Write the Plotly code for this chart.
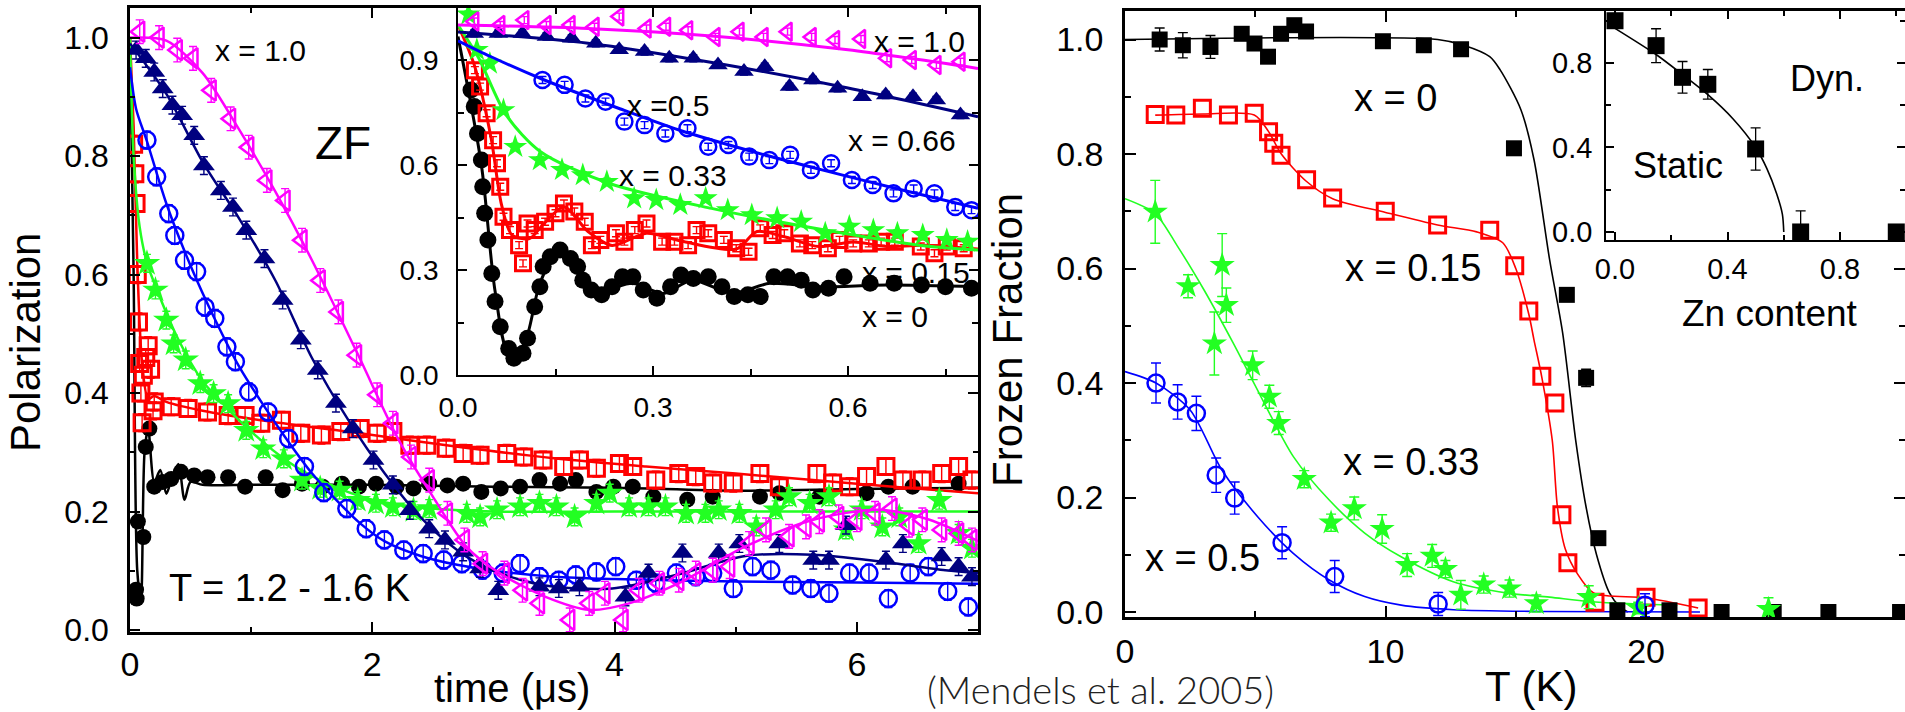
import plotly.graph_objects as go

W, H = 1905, 712
FONT = "Liberation Sans, Arial, sans-serif"

# ---------------- Left main panel: polarization vs time (us) ----------------
T_X0 = [0.05, 0.055, 0.065, 0.11, 0.13, 0.16, 0.2, 0.27, 0.34, 0.42, 0.53, 0.64, 0.81, 0.95, 1.12, 1.26, 1.42, 1.59, 1.75, 1.89,
        2.03, 2.2, 2.34, 2.47, 2.62, 2.75, 2.9, 3.06, 3.22, 3.38, 3.55, 3.68, 3.85, 3.99, 4.15, 4.32, 4.6, 4.81, 5.2, 5.36,
        5.69, 6.08, 6.26, 6.46, 6.84]
P_X0 = [0.068, 0.053, 0.183, 0.157, 0.309, 0.34, 0.242, 0.25, 0.255, 0.267, 0.261, 0.258, 0.258, 0.242, 0.258, 0.236, 0.247, 0.242, 0.247, 0.242,
        0.247, 0.242, 0.239, 0.247, 0.244, 0.247, 0.233, 0.239, 0.242, 0.253, 0.247, 0.253, 0.233, 0.242, 0.242, 0.225, 0.22, 0.225, 0.225, 0.231,
        0.225, 0.231, 0.242, 0.242, 0.247]
FIT_T_X0 = [0, 0.03, 0.06, 0.09, 0.12, 0.15, 0.2, 0.25, 0.3, 0.35, 0.4, 0.45, 0.5, 0.6, 1.0, 2.0, 3.0, 4.0, 5.0, 6.0, 7.0]
FIT_P_X0 = [1.0, 0.6, 0.1, 0.05, 0.3, 0.34, 0.25, 0.27, 0.23, 0.26, 0.28, 0.22, 0.25, 0.245, 0.245, 0.245, 0.242, 0.24, 0.235, 0.238, 0.24]

T_X15 = [0.03, 0.04, 0.05, 0.06, 0.07, 0.08, 0.09, 0.1, 0.11, 0.13, 0.15, 0.17, 0.19, 0.2, 0.34, 0.48, 0.64, 0.81, 0.95, 1.08,
         1.25, 1.41, 1.58, 1.74, 1.9, 2.04, 2.17, 2.31, 2.45, 2.61, 2.75, 2.89, 3.11, 3.25, 3.41, 3.58, 3.71, 3.85, 4.04, 4.15,
         4.34, 4.53, 4.67, 4.81, 4.98, 5.2, 5.36, 5.67, 5.8, 5.94, 6.08, 6.24, 6.38, 6.54, 6.7, 6.84, 6.95]
P_X15 = [0.82, 0.77, 0.72, 0.6, 0.52, 0.45, 0.4, 0.35, 0.43, 0.46, 0.48, 0.44, 0.37, 0.385, 0.377, 0.374, 0.368, 0.362, 0.362, 0.349,
         0.354, 0.332, 0.329, 0.335, 0.34, 0.332, 0.335, 0.312, 0.312, 0.307, 0.298, 0.295, 0.298, 0.292, 0.287, 0.276, 0.287, 0.273, 0.281, 0.276,
         0.253, 0.264, 0.259, 0.248, 0.248, 0.264, 0.242, 0.264, 0.248, 0.242, 0.259, 0.276, 0.253, 0.253, 0.264, 0.276, 0.253]
FIT_T_X15 = [0, 0.03, 0.06, 0.1, 0.15, 0.2, 0.3, 0.6, 1.08, 1.9, 2.72, 3.5, 4.26, 5.0, 5.64, 6.3, 7.0]
FIT_P_X15 = [1.0, 0.85, 0.62, 0.45, 0.39, 0.395, 0.385, 0.37, 0.354, 0.332, 0.309, 0.29, 0.276, 0.264, 0.253, 0.242, 0.231]

T_X33 = [0.14, 0.21, 0.3, 0.36, 0.46, 0.58, 0.69, 0.81, 0.96, 1.1, 1.27, 1.42, 1.57, 1.73, 1.88, 2.03, 2.17, 2.34, 2.47, 2.78,
         2.89, 3.03, 3.22, 3.38, 3.52, 3.67, 3.85, 3.96, 4.12, 4.28, 4.42, 4.59, 4.75, 4.86, 5.03, 5.17, 5.33, 5.44, 5.61, 5.77,
         5.91, 6.04, 6.21, 6.35, 6.51, 6.68, 6.84, 6.95]
P_X33 = [0.619, 0.574, 0.523, 0.483, 0.456, 0.416, 0.399, 0.382, 0.337, 0.306, 0.289, 0.253, 0.239, 0.236, 0.219, 0.214, 0.208, 0.202, 0.205, 0.197,
         0.191, 0.203, 0.208, 0.214, 0.208, 0.191, 0.214, 0.231, 0.208, 0.208, 0.208, 0.197, 0.197, 0.203, 0.197, 0.174, 0.203, 0.225, 0.214, 0.225,
         0.169, 0.203, 0.174, 0.191, 0.146, 0.219, 0.163, 0.138]
FIT_T_X33 = [0, 0.03, 0.08, 0.14, 0.25, 0.4, 0.6, 0.8, 1.0, 1.3, 1.6, 2.0, 2.5, 3.0, 4.0, 5.0, 6.0, 7.0]
FIT_P_X33 = [1.0, 0.8, 0.68, 0.62, 0.56, 0.49, 0.42, 0.375, 0.335, 0.285, 0.25, 0.22, 0.205, 0.2, 0.2, 0.2, 0.2, 0.2]

T_X50 = [0.14, 0.22, 0.32, 0.37, 0.45, 0.55, 0.62, 0.7, 0.8, 0.87, 0.98, 1.14, 1.31, 1.44, 1.6, 1.79, 1.95, 2.1, 2.26, 2.42,
         2.59, 2.74, 2.91, 3.08, 3.22, 3.38, 3.54, 3.68, 3.85, 4.01, 4.18, 4.34, 4.51, 4.67, 4.81, 4.98, 5.14, 5.29, 5.47, 5.62,
         5.77, 5.94, 6.1, 6.26, 6.44, 6.59, 6.75, 6.92]
P_X50 = [0.827, 0.765, 0.703, 0.666, 0.624, 0.605, 0.545, 0.526, 0.478, 0.453, 0.402, 0.368, 0.323, 0.276, 0.232, 0.205, 0.171, 0.152, 0.135, 0.129,
         0.118, 0.112, 0.101, 0.096, 0.112, 0.09, 0.084, 0.093, 0.098, 0.107, 0.084, 0.079, 0.096, 0.09, 0.096, 0.07, 0.107, 0.101, 0.076, 0.07,
         0.062, 0.096, 0.096, 0.053, 0.096, 0.107, 0.065, 0.039]
FIT_T_X50 = [0, 0.05, 0.14, 0.3, 0.5, 0.7, 0.9, 1.1, 1.3, 1.5, 1.7, 1.9, 2.1, 2.4, 2.7, 3.0, 3.5, 4.0, 5.0, 6.0, 7.0]
FIT_P_X50 = [0.95, 0.88, 0.825, 0.72, 0.615, 0.525, 0.445, 0.38, 0.32, 0.265, 0.22, 0.18, 0.15, 0.125, 0.11, 0.1, 0.09, 0.086, 0.082, 0.08, 0.078]

T_X66 = [0.05, 0.13, 0.2, 0.27, 0.35, 0.43, 0.53, 0.61, 0.75, 0.85, 0.96, 1.11, 1.26, 1.41, 1.55, 1.7, 1.84, 2.01, 2.17, 2.31,
         2.47, 2.6, 2.75, 2.89, 3.04, 3.38, 3.54, 3.71, 4.09, 4.28, 4.56, 4.86, 5.03, 5.36, 5.64, 5.77, 5.91, 6.24, 6.38, 6.7,
         6.84, 6.95]
P_X66 = [0.979, 0.965, 0.942, 0.914, 0.886, 0.869, 0.835, 0.784, 0.742, 0.714, 0.675, 0.627, 0.557, 0.49, 0.439, 0.383, 0.34, 0.287, 0.245, 0.202,
         0.171, 0.152, 0.132, 0.104, 0.067, 0.073, 0.07, 0.073, 0.056, 0.096, 0.13, 0.13, 0.146, 0.146, 0.118, 0.118, 0.177, 0.118, 0.146, 0.124,
         0.107, 0.09]
FIT_T_X66 = [0, 0.3, 0.6, 0.9, 1.2, 1.5, 1.8, 2.1, 2.4, 2.7, 3.0, 3.43, 3.98, 4.53, 5.08, 5.64, 6.18, 6.73, 7.0]
FIT_P_X66 = [0.99, 0.905, 0.79, 0.695, 0.59, 0.46, 0.355, 0.265, 0.19, 0.135, 0.1, 0.075, 0.07, 0.094, 0.125, 0.127, 0.116, 0.101, 0.096]

T_X100 = [0.08, 0.24, 0.39, 0.52, 0.67, 0.83, 0.98, 1.13, 1.28, 1.42, 1.57, 1.72, 1.87, 2.04, 2.17, 2.32, 2.47, 2.62, 2.76, 2.91,
          3.09, 3.24, 3.38, 3.63, 3.79, 3.92, 4.07, 4.2, 4.37, 4.53, 4.67, 4.81, 4.95, 5.11, 5.25, 5.44, 5.58, 5.69, 5.85, 6.0,
          6.15, 6.29, 6.43, 6.54, 6.7, 6.84, 6.95]
P_X100 = [1.01, 1.0, 0.979, 0.965, 0.911, 0.863, 0.815, 0.759, 0.725, 0.658, 0.59, 0.537, 0.464, 0.397, 0.349, 0.292, 0.253, 0.197, 0.152, 0.112,
          0.096, 0.067, 0.045, 0.017, 0.045, 0.062, 0.017, 0.067, 0.079, 0.084, 0.096, 0.101, 0.107, 0.146, 0.169, 0.158, 0.174, 0.183, 0.191, 0.186,
          0.197, 0.205, 0.177, 0.186, 0.169, 0.163, 0.152]
FIT_T_X100 = [0, 0.3, 0.6, 0.9, 1.2, 1.5, 1.87, 2.22, 2.5, 2.78, 3.05, 3.43, 3.79, 4.12, 4.53, 5.08, 5.64, 6.18, 6.6, 7.0]
FIT_P_X100 = [1.0, 0.995, 0.94, 0.845, 0.74, 0.625, 0.47, 0.32, 0.225, 0.14, 0.096, 0.056, 0.034, 0.045, 0.079, 0.141, 0.186, 0.203, 0.186, 0.15]

ERR_MAIN = {"x0": 0.008, "x15": 0.015, "x33": 0.015, "x50": 0.015, "x66": 0.015, "x100": 0.02}

# ---------------- Left inset: early times ----------------
IT_X0 = [0.02, 0.025, 0.03, 0.036, 0.038, 0.041, 0.046, 0.052, 0.057, 0.065, 0.078, 0.086, 0.1, 0.107, 0.118, 0.126, 0.131, 0.142, 0.157, 0.173,
         0.184, 0.192, 0.205, 0.221, 0.237, 0.253, 0.269, 0.285, 0.306, 0.327, 0.343, 0.362, 0.385, 0.406, 0.425, 0.446, 0.465, 0.486, 0.507, 0.528,
         0.546, 0.57, 0.594, 0.634, 0.671, 0.713, 0.75, 0.79]
IP_X0 = [0.814, 0.767, 0.69, 0.614, 0.538, 0.462, 0.386, 0.29, 0.21, 0.138, 0.076, 0.048, 0.062, 0.105, 0.195, 0.252, 0.31, 0.338, 0.357, 0.333,
         0.31, 0.271, 0.243, 0.229, 0.252, 0.281, 0.281, 0.243, 0.219, 0.252, 0.286, 0.276, 0.281, 0.252, 0.224, 0.229, 0.224, 0.281, 0.281, 0.271,
         0.243, 0.248, 0.281, 0.262, 0.262, 0.257, 0.252, 0.248]
IFIT_T_X0 = [0, 0.036, 0.057, 0.078, 0.1, 0.126, 0.152, 0.184, 0.216, 0.269, 0.316, 0.36, 0.422, 0.48, 0.554, 0.66, 0.8]
IFIT_P_X0 = [0.967, 0.6, 0.24, 0.062, 0.081, 0.262, 0.348, 0.31, 0.243, 0.262, 0.233, 0.271, 0.233, 0.262, 0.252, 0.257, 0.252]

IT_X15 = [0.026, 0.034, 0.044, 0.054, 0.06, 0.065, 0.07, 0.08, 0.094, 0.1, 0.107, 0.118, 0.134, 0.15, 0.163, 0.179, 0.195, 0.206, 0.219, 0.243,
          0.256, 0.272, 0.29, 0.314, 0.333, 0.354, 0.367, 0.385, 0.409, 0.428, 0.447, 0.465, 0.484, 0.502, 0.526, 0.545, 0.569, 0.587, 0.608, 0.632,
          0.651, 0.672, 0.712, 0.733, 0.752, 0.778]
IP_X15 = [0.871, 0.824, 0.748, 0.671, 0.605, 0.538, 0.452, 0.414, 0.371, 0.319, 0.433, 0.414, 0.438, 0.462, 0.49, 0.467, 0.438, 0.371, 0.386, 0.405,
          0.381, 0.414, 0.433, 0.381, 0.381, 0.371, 0.414, 0.405, 0.386, 0.362, 0.352, 0.419, 0.4, 0.405, 0.376, 0.371, 0.362, 0.386, 0.376, 0.376,
          0.381, 0.381, 0.367, 0.348, 0.367, 0.362]
IFIT_T_X15 = [0, 0.025, 0.051, 0.067, 0.083, 0.11, 0.131, 0.163, 0.2, 0.237, 0.29, 0.343, 0.428, 0.46, 0.502, 0.555, 0.608, 0.661, 0.714, 0.8]
IFIT_P_X15 = [1.0, 0.886, 0.676, 0.486, 0.4, 0.39, 0.43, 0.48, 0.41, 0.37, 0.405, 0.383, 0.36, 0.41, 0.395, 0.367, 0.38, 0.367, 0.371, 0.36]

IT_X33 = [0.016, 0.029, 0.049, 0.07, 0.088, 0.126, 0.16, 0.192, 0.229, 0.271, 0.305, 0.342, 0.381, 0.415, 0.452, 0.491, 0.528, 0.565, 0.602, 0.639,
          0.676, 0.715, 0.752, 0.784]
IP_X33 = [1.03, 0.929, 0.89, 0.757, 0.652, 0.614, 0.586, 0.571, 0.552, 0.505, 0.5, 0.486, 0.505, 0.471, 0.457, 0.448, 0.438, 0.405, 0.424, 0.414,
          0.405, 0.4, 0.386, 0.381]
IFIT_T_X33 = [0, 0.032, 0.074, 0.127, 0.232, 0.39, 0.549, 0.709, 0.8]
IFIT_P_X33 = [1.0, 0.905, 0.743, 0.638, 0.548, 0.476, 0.419, 0.371, 0.357]

IT_X50 = [0.13, 0.164, 0.196, 0.227, 0.256, 0.287, 0.319, 0.353, 0.385, 0.416, 0.448, 0.479, 0.511, 0.543, 0.574, 0.606, 0.638, 0.67, 0.701, 0.733,
          0.765, 0.79]
IP_X50 = [0.843, 0.829, 0.79, 0.781, 0.724, 0.714, 0.69, 0.705, 0.652, 0.657, 0.624, 0.614, 0.629, 0.586, 0.605, 0.557, 0.543, 0.519, 0.533, 0.519,
          0.48, 0.471]
IFIT_T_X50 = [0, 0.05, 0.13, 0.25, 0.34, 0.45, 0.56, 0.68, 0.8]
IFIT_P_X50 = [0.955, 0.91, 0.845, 0.76, 0.7, 0.64, 0.586, 0.53, 0.476]

IT_X66 = [0.025, 0.062, 0.099, 0.136, 0.175, 0.212, 0.248, 0.287, 0.325, 0.362, 0.4, 0.44, 0.472, 0.51, 0.546, 0.584, 0.622, 0.658, 0.7, 0.736, 0.773]
IP_X66 = [0.976, 0.976, 0.976, 0.967, 0.962, 0.948, 0.929, 0.924, 0.905, 0.905, 0.886, 0.867, 0.881, 0.824, 0.843, 0.819, 0.795, 0.8, 0.795, 0.786, 0.743]
IFIT_T_X66 = [0, 0.2, 0.4, 0.6, 0.8]
IFIT_P_X66 = [0.98, 0.948, 0.89, 0.82, 0.738]

IT_X100 = [0.025, 0.065, 0.102, 0.136, 0.173, 0.21, 0.248, 0.29, 0.32, 0.354, 0.396, 0.433, 0.47, 0.507, 0.544, 0.58, 0.62, 0.66, 0.698, 0.736, 0.773]
IP_X100 = [1.01, 1.0, 1.014, 1.0, 1.0, 0.995, 1.024, 0.99, 0.995, 0.985, 0.966, 0.981, 0.966, 0.981, 0.966, 0.957, 0.96, 0.905, 0.9, 0.886, 0.895]
IFIT_T_X100 = [0, 0.2, 0.4, 0.6, 0.8]
IFIT_P_X100 = [1.0, 0.99, 0.967, 0.929, 0.876]

# ---------------- Right main panel: frozen fraction vs T (K) ----------------
TK_X0 = [1.33, 2.22, 3.28, 4.48, 4.97, 5.49, 5.99, 6.5, 6.95, 9.9, 11.47, 12.9, 14.93, 16.96, 17.7, 18.17, 18.9, 20.9, 22.9, 24.9, 27.0, 29.75]
FF_X0 = [1.0, 0.99, 0.987, 1.01, 0.993, 0.97, 1.01, 1.025, 1.014, 0.997, 0.99, 0.983, 0.81, 0.554, 0.409, 0.129, 0.003, 0.003, 0.0, 0.0, 0.0, 0.0]
ERR_X0 = [0.02, 0.022, 0.02, 0, 0, 0, 0, 0, 0, 0, 0, 0, 0, 0, 0.015, 0, 0, 0, 0, 0, 0, 0]
FTK_X0 = [0, 12, 13, 14, 14.4, 15.2, 15.7, 16.3, 16.8, 17.3, 17.7, 18.1, 18.6, 19.0, 19.3]
FFF_X0 = [1.0, 1.0, 0.99, 0.97, 0.947, 0.877, 0.79, 0.615, 0.487, 0.30, 0.183, 0.10, 0.033, 0.009, 0.0]

TK_X15 = [1.16, 1.95, 2.97, 3.97, 4.96, 5.51, 5.71, 5.99, 6.97, 7.97, 9.99, 12.0, 14.0, 14.96, 15.5, 16.0, 16.5, 16.77, 17.0, 18.04, 20.0, 22.0]
FF_X15 = [0.869, 0.868, 0.88, 0.868, 0.871, 0.839, 0.819, 0.798, 0.755, 0.723, 0.70, 0.676, 0.667, 0.605, 0.526, 0.412, 0.365, 0.17, 0.086, 0.017, 0.026, 0.007]
FTK_X15 = [1.16, 3, 4.96, 5.5, 6.0, 6.97, 7.97, 10, 12, 13.5, 14.5, 15.0, 15.5, 15.7, 16.0, 16.4, 16.6, 16.9, 17.35, 18, 20, 22]
FFF_X15 = [0.868, 0.87, 0.868, 0.84, 0.80, 0.752, 0.722, 0.698, 0.676, 0.664, 0.645, 0.60, 0.52, 0.475, 0.41, 0.30, 0.183, 0.11, 0.068, 0.033, 0.025, 0.007]

TK_X33 = [1.16, 2.42, 3.43, 3.73, 3.89, 4.9, 5.54, 5.9, 6.88, 7.91, 8.8, 9.87, 10.83, 11.79, 12.3, 12.89, 13.77, 14.76, 15.79, 17.8, 19.7, 24.7]
FF_X33 = [0.699, 0.569, 0.469, 0.606, 0.536, 0.431, 0.376, 0.33, 0.232, 0.156, 0.181, 0.145, 0.082, 0.098, 0.075, 0.03, 0.048, 0.041, 0.015, 0.026, 0.007, 0.005]
ERR_X33 = [0.055, 0.02, 0.055, 0.055, 0.03, 0.025, 0.02, 0.02, 0.015, 0.015, 0.02, 0.025, 0.02, 0.02, 0.015, 0.025, 0.015, 0.015, 0.015, 0.02, 0.01, 0.02]
FTK_X33 = [0, 1.16, 2, 3.04, 4.15, 5.22, 6.47, 7.83, 9.2, 10.58, 12.6, 14.7, 16.3, 17.85, 21.2]
FFF_X33 = [0.722, 0.696, 0.64, 0.562, 0.47, 0.376, 0.271, 0.196, 0.138, 0.097, 0.053, 0.033, 0.026, 0.018, 0.012]

TK_X50 = [1.19, 2.02, 2.74, 3.5, 4.21, 6.03, 8.05, 12.02, 19.96]
FF_X50 = [0.40, 0.367, 0.347, 0.239, 0.199, 0.121, 0.062, 0.014, 0.012]
ERR_X50 = [0.035, 0.03, 0.03, 0.03, 0.028, 0.028, 0.028, 0.02, 0.02]
FTK_X50 = [0, 1.19, 2.5, 3.72, 5.1, 6.47, 7.84, 9.2, 10.6, 12.6, 16, 22.07]
FFF_X50 = [0.42, 0.40, 0.353, 0.248, 0.166, 0.102, 0.056, 0.027, 0.012, 0.004, 0.001, 0.0]

# ---------------- Right inset: phase diagram vs Zn content ----------------
ZN = [0.0, 0.146, 0.24, 0.33, 0.50, 0.66, 1.0]
ZN_F = [1.0, 0.882, 0.732, 0.699, 0.393, 0.0, 0.0]
ZN_ERR_UP = [0, 0.08, 0.075, 0.07, 0.1, 0.1, 0]
ZN_ERR_DN = [0, 0.08, 0.075, 0.07, 0.1, 0, 0]
ZN_FIT = [0, 0.146, 0.24, 0.33, 0.42, 0.5, 0.54, 0.575, 0.595, 0.6]
ZN_FIT_F = [0.964, 0.84, 0.745, 0.65, 0.535, 0.4, 0.3, 0.18, 0.085, 0.0]

BLACK, RED, GREEN, BLUE, NAVY, MAGENTA = "#000000", "#FF0000", "#22FF22", "#0000FF", "#000080", "#FF00FF"


def px(x):
    return x / W


def py(y):
    return 1 - y / H


fig = go.Figure()


def add_series(xs, ys, xa, ya, color, symbol, size, lw=0, err=None, errtype="data"):
    ey = None
    if err is not None:
        if errtype == "constant":
            ey = dict(type="constant", value=err, color=color, thickness=1.4, width=4)
        else:
            ey = dict(type="data", array=err, color=color, thickness=1.4, width=5)
    fig.add_trace(go.Scatter(x=xs, y=ys, xaxis=xa, yaxis=ya, mode="markers", error_y=ey,
                             marker=dict(symbol=symbol, size=size, color=color, line=dict(width=lw, color=color)),
                             showlegend=False, hoverinfo="skip"))


def add_fit(xs, ys, xa, ya, color, width):
    fig.add_trace(go.Scatter(x=xs, y=ys, xaxis=xa, yaxis=ya, mode="lines",
                             line=dict(color=color, width=width, shape="spline", smoothing=0.8),
                             showlegend=False, hoverinfo="skip"))


# Left main
for (ft, fp, t, p, col, sym, sz, lw, key) in [
    (FIT_T_X0, FIT_P_X0, T_X0, P_X0, BLACK, "circle", 16, 0, "x0"),
    (FIT_T_X15, FIT_P_X15, T_X15, P_X15, RED, "square-open", 16, 3, "x15"),
    (FIT_T_X33, FIT_P_X33, T_X33, P_X33, GREEN, "star", 20, 0, "x33"),
    (FIT_T_X50, FIT_P_X50, T_X50, P_X50, BLUE, "circle-open", 17, 2.5, "x50"),
    (FIT_T_X66, FIT_P_X66, T_X66, P_X66, NAVY, "triangle-up", 19, 0, "x66"),
    (FIT_T_X100, FIT_P_X100, T_X100, P_X100, MAGENTA, "triangle-left-open", 18, 2.5, "x100"),
]:
    add_fit(ft, fp, "x", "y", col, 2.5)
    add_series(t, p, "x", "y", col, sym, sz, lw, ERR_MAIN[key], "constant")

# Left inset
for (ft, fp, t, p, col, sym, sz, lw) in [
    (IFIT_T_X0, IFIT_P_X0, IT_X0, IP_X0, BLACK, "circle", 17, 0),
    (IFIT_T_X15, IFIT_P_X15, IT_X15, IP_X15, RED, "square-open", 15, 3),
    (IFIT_T_X33, IFIT_P_X33, IT_X33, IP_X33, GREEN, "star", 18, 0),
    (IFIT_T_X50, IFIT_P_X50, IT_X50, IP_X50, BLUE, "circle-open", 16, 2.5),
    (IFIT_T_X66, IFIT_P_X66, IT_X66, IP_X66, NAVY, "triangle-up", 17, 0),
    (IFIT_T_X100, IFIT_P_X100, IT_X100, IP_X100, MAGENTA, "triangle-left-open", 16, 2.5),
]:
    add_fit(ft, fp, "x2", "y2", col, 3)
    add_series(t, p, "x2", "y2", col, sym, sz, lw, 0.01, "constant")

# Right main
add_fit(FTK_X0, FFF_X0, "x3", "y3", BLACK, 1.6)
add_fit(FTK_X15, FFF_X15, "x3", "y3", RED, 1.6)
add_fit(FTK_X33, FFF_X33, "x3", "y3", GREEN, 1.6)
add_fit(FTK_X50, FFF_X50, "x3", "y3", BLUE, 1.6)
add_series(TK_X0, FF_X0, "x3", "y3", BLACK, "square", 16, 0, ERR_X0)
add_series(TK_X15, FF_X15, "x3", "y3", RED, "square-open", 16, 3)
add_series(TK_X33, FF_X33, "x3", "y3", GREEN, "star", 19, 0, ERR_X33)
add_series(TK_X50, FF_X50, "x3", "y3", BLUE, "circle-open", 17, 2.5, ERR_X50)

# Right inset
add_fit(ZN_FIT, ZN_FIT_F, "x4", "y4", BLACK, 1.6)
fig.add_trace(go.Scatter(x=ZN, y=ZN_F, xaxis="x4", yaxis="y4", mode="markers",
                         error_y=dict(type="data", array=ZN_ERR_UP, arrayminus=ZN_ERR_DN, color=BLACK, thickness=1.3, width=5),
                         marker=dict(symbol="square", size=17, color=BLACK),
                         showlegend=False, hoverinfo="skip"))


def axis(domain, rng, dtick, mdtick, fsize, lw, tl, mtl, anchor, fmt=None, standoff=None):
    d = dict(domain=domain, range=rng, anchor=anchor, dtick=dtick, tick0=0, automargin=False,
             showline=True, linecolor="black", linewidth=lw, mirror="ticks",
             ticks="inside", ticklen=tl, tickwidth=2, tickcolor="black",
             minor=dict(dtick=mdtick, tick0=0, ticks="inside", ticklen=mtl, tickwidth=2, tickcolor="black", showgrid=False),
             showgrid=False, zeroline=False, tickfont=dict(family=FONT, size=fsize, color="black"))
    if fmt:
        d["tickformat"] = fmt
    if standoff is not None:
        d["ticklabelstandoff"] = standoff
    return d


layout_axes = dict(
    xaxis=axis([px(130), px(978)], [0, 7.0], 2, 1, 34, 2.5, 10, 5, "y", standoff=0),
    yaxis=axis([py(632), py(8)], [-0.0034, 1.05], 0.2, 0.1, 32, 2.5, 10, 5, "x", ".1f", standoff=12),
    xaxis2=axis([px(458), px(978)], [0, 0.8], 0.3, 0.15, 28, 1.8, 9, 6, "y2", ".1f", standoff=6),
    yaxis2=axis([py(375), py(8)], [0, 1.0486], 0.3, 0.15, 28, 1.8, 9, 6, "x2", ".1f", standoff=12),
    xaxis3=axis([px(1125), 1.0], [0, 29.94], 10, 5, 34, 2.5, 11, 6, "y3", standoff=2),
    yaxis3=axis([py(617), py(11)], [-0.0087, 1.0498], 0.2, 0.1, 34, 2.5, 11, 6, "x3", ".1f", standoff=12),
    xaxis4=axis([px(1606), 1.0], [-0.032, 1.031], 0.4, 0.2, 29, 1.5, 8, 5, "y4", ".1f", standoff=2),
    yaxis4=axis([py(240), py(11)], [-0.038, 1.046], 0.4, 0.2, 29, 1.5, 8, 5, "x4", ".1f", standoff=6),
)


def note(text, X, Y, size, angle=0, family=FONT, color="black", weight=None):
    f = dict(family=family, size=size, color=color)
    if weight:
        f["weight"] = weight
    return dict(text=text, x=px(X), y=py(Y), xref="paper", yref="paper", showarrow=False,
                xanchor="center", yanchor="middle", textangle=angle, font=f)


annotations = [
    note("Polarization", 26, 343, 42, -90),
    note("time (μs)", 512, 688, 40),
    note("x = 1.0", 260, 50, 30),
    note("ZF", 343, 143, 46),
    note("T = 1.2 - 1.6 K", 289, 588, 38),
    note("x = 1.0", 919, 42, 30),
    note("x =0.5", 668, 105, 30),
    note("x = 0.66", 902, 140, 30),
    note("x = 0.33", 673, 175, 30),
    note("x = 0.15", 916, 272, 30),
    note("x = 0", 895, 316, 30),
    note("Frozen Fraction", 1008, 340, 42, -90),
    note("T (K)", 1531, 686, 42),
    note("x = 0", 1395, 98, 38),
    note("x = 0.15", 1413, 268, 38),
    note("x = 0.33", 1411, 462, 38),
    note("x = 0.5", 1202, 558, 38),
    note("Dyn.", 1827, 78, 36),
    note("Static", 1678, 165, 36),
    note("Zn content", 1770, 313, 37),
    note("(Mendels et al. 2005)", 1100, 689, 38, family="Lato, sans-serif", color="#222222", weight=300),
]

fig.update_layout(width=W, height=H, margin=dict(l=0, r=0, t=0, b=0, autoexpand=False),
                  paper_bgcolor="white", plot_bgcolor="white",
                  annotations=annotations, **layout_axes)

fig.write_html("out.html")
